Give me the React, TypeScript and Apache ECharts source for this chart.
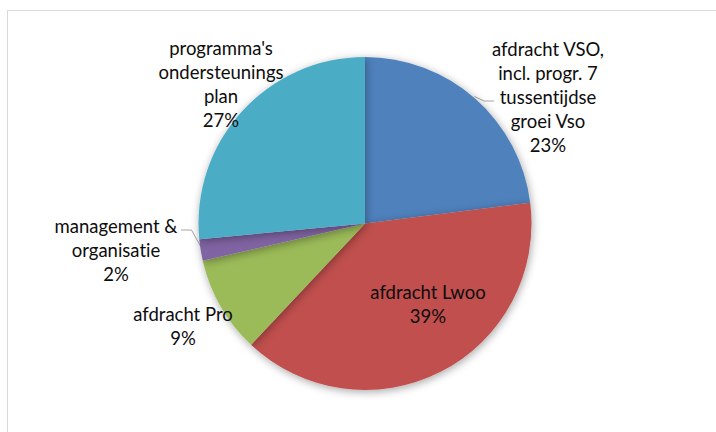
import React, { useEffect, useRef } from "react";
import * as echarts from "echarts";

const categories = [
  "afdracht VSO,\nincl. progr. 7\ntussentijdse\ngroei Vso",
  "afdracht Lwoo",
  "afdracht Pro",
  "management &\norganisatie",
  "programma's\nondersteunings\nplan",
];
const values = [23.0, 39.0, 9.4, 2.1, 26.5];
const colors = ["#4F81BD", "#C0504D", "#9BBB59", "#8064A2", "#4BACC6"];
const showLeader = [true, false, false, true, false];

// label anchor layout (centre of each text block) and leader lines
const labelPos: [number, number][] = [
  [548, 97],
  [428, 304],
  [183, 325.5],
  [116, 250],
  [221, 84],
];
const leaderPoints: Record<number, number[][]> = {
  0: [
    [474.5, 96.5],
    [484, 101],
    [494, 101],
  ],
  3: [
    [201.5, 248],
    [191.5, 230],
    [181, 230],
  ],
};

export default function App() {
  const ref = useRef<HTMLDivElement>(null);
  useEffect(() => {
    document.body.style.margin = "0";
    const chart = echarts.init(ref.current!, null, { renderer: "svg" });
    chart.setOption({
      animation: false,
      backgroundColor: "#ffffff",
      graphic: [
        {
          type: "rect",
          shape: { x: 7.5, y: 10.5, width: 740, height: 440 },
          style: { fill: "none", stroke: "#d9d9d9", lineWidth: 1 },
          silent: true,
        },
      ],
      series: [
        {
          type: "pie",
          center: [365, 223.5],
          radius: 166.5,
          startAngle: 90,
          clockwise: true,
          avoidLabelOverlap: false,
          data: categories.map((name, i) => ({
            name,
            value: values[i],
            itemStyle: { color: colors[i] },
            labelLine: { show: showLeader[i] },
          })),
          itemStyle: {
            borderWidth: 0,
            shadowBlur: 8,
            shadowOffsetX: 1,
            shadowOffsetY: 2,
            shadowColor: "rgba(0,0,0,0.35)",
          },
          label: {
            show: true,
            position: "outside",
            formatter: (p: any) => `${p.name}\n${Math.round(p.percent)}%`,
            fontFamily: "Lato",
            fontSize: 18.5,
            lineHeight: 24,
            color: "#0d0d0d",
            align: "center",
          },
          labelLine: {
            show: true,
            lineStyle: { color: "#a6a6a6", width: 1 },
          },
          emphasis: { disabled: true },
          labelLayout: (params: any) => {
            const i = params.dataIndex;
            const res: any = {
              x: labelPos[i][0],
              y: labelPos[i][1],
              align: "center",
              verticalAlign: "middle",
            };
            if (leaderPoints[i]) res.labelLinePoints = leaderPoints[i];
            return res;
          },
        },
      ],
    });
    return () => chart.dispose();
  }, []);
  return (
    <>
      <style>{"svg text{font-variant-ligatures:none;font-feature-settings:'liga' 0,'clig' 0;}"}</style>
      <div ref={ref} style={{ width: 716, height: 432 }} />
    </>
  );
}
